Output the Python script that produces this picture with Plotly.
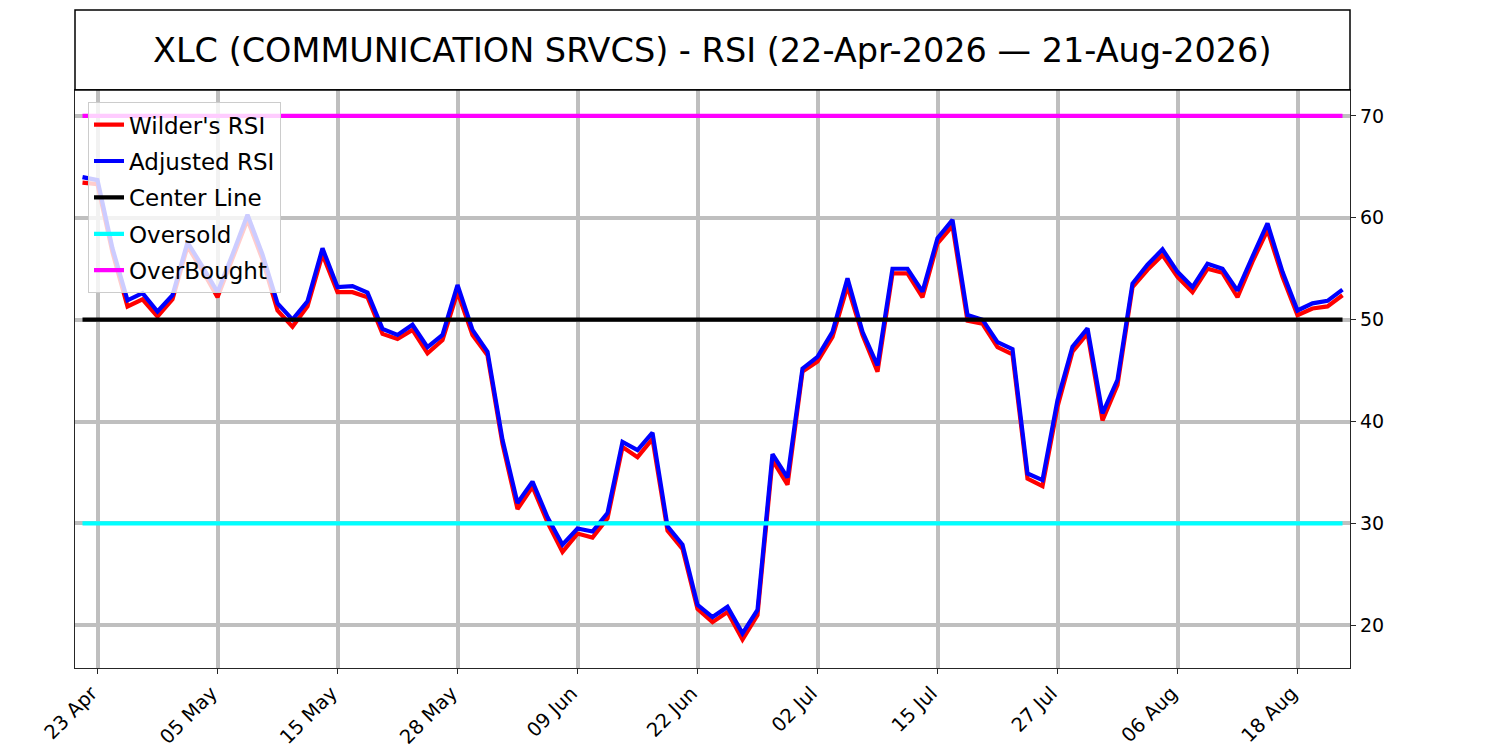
import plotly.graph_objects as go

# trading days shown on the chart (22-Apr-2026 .. 21-Aug-2026)
dates = [
    "2026-04-22", "2026-04-23", "2026-04-24", "2026-04-27", "2026-04-28", "2026-04-29", "2026-04-30",
    "2026-05-01", "2026-05-04", "2026-05-05", "2026-05-06", "2026-05-07", "2026-05-08", "2026-05-11",
    "2026-05-12", "2026-05-13", "2026-05-14", "2026-05-15", "2026-05-18", "2026-05-19", "2026-05-20",
    "2026-05-21", "2026-05-22", "2026-05-26", "2026-05-27", "2026-05-28", "2026-05-29", "2026-06-01",
    "2026-06-02", "2026-06-03", "2026-06-04", "2026-06-05", "2026-06-08", "2026-06-09", "2026-06-10",
    "2026-06-11", "2026-06-12", "2026-06-15", "2026-06-16", "2026-06-17", "2026-06-18", "2026-06-22",
    "2026-06-23", "2026-06-24", "2026-06-25", "2026-06-26", "2026-06-29", "2026-06-30", "2026-07-01",
    "2026-07-02", "2026-07-06", "2026-07-07", "2026-07-08", "2026-07-09", "2026-07-10", "2026-07-13",
    "2026-07-14", "2026-07-15", "2026-07-16", "2026-07-17", "2026-07-20", "2026-07-21", "2026-07-22",
    "2026-07-23", "2026-07-24", "2026-07-27", "2026-07-28", "2026-07-29", "2026-07-30", "2026-07-31",
    "2026-08-03", "2026-08-04", "2026-08-05", "2026-08-06", "2026-08-07", "2026-08-10", "2026-08-11",
    "2026-08-12", "2026-08-13", "2026-08-14", "2026-08-17", "2026-08-18", "2026-08-19", "2026-08-20",
    "2026-08-21",
]

wilders_rsi = [
    63.45, 63.3, 56.6, 51.3, 52.0, 50.3, 52.0, 57.2, 54.8, 52.2, 56.0, 59.8, 55.9, 50.9, 49.3,
    51.3, 56.4, 52.7, 52.7, 52.2, 48.6, 48.1, 49.0, 46.7, 48.0, 52.7, 48.5, 46.5, 37.8, 31.4,
    33.6, 30.1, 27.2, 29.0, 28.6, 30.5, 37.5, 36.5, 38.3, 29.3, 27.5, 21.6, 20.3, 21.3, 18.6,
    21.0, 36.2, 33.8, 44.9, 45.9, 48.3, 53.3, 48.5, 44.9, 54.55, 54.55, 52.2, 57.5, 59.2, 49.9,
    49.6, 47.3, 46.6, 34.4, 33.65, 41.45, 46.85, 48.65, 40.1, 43.6, 53.2, 54.9, 56.35, 54.2, 52.7,
    55.0, 54.6, 52.2, 55.7, 58.8, 54.2, 50.45, 51.1, 51.3, 52.4,
]

adjusted_rsi = [
    64.0, 63.7, 57.0, 51.9, 52.6, 50.8, 52.4, 57.6, 55.2, 52.7, 56.4, 60.3, 56.4, 51.6, 50.0,
    51.8, 57.0, 53.2, 53.3, 52.65, 49.1, 48.5, 49.5, 47.3, 48.5, 53.4, 49.0, 46.85, 38.2, 32.0,
    34.1, 30.6, 27.9, 29.5, 29.2, 31.0, 38.0, 37.2, 38.9, 29.7, 27.9, 22.0, 20.8, 21.8, 19.2,
    21.5, 36.8, 34.5, 45.2, 46.35, 48.8, 54.05, 48.8, 45.5, 55.0, 55.0, 52.75, 58.0, 59.8, 50.45,
    50.0, 47.8, 47.1, 34.9, 34.25, 42.1, 47.35, 49.15, 40.8, 44.1, 53.55, 55.4, 56.9, 54.7, 53.2,
    55.5, 55.0, 52.85, 56.2, 59.45, 54.7, 50.9, 51.6, 51.85, 52.95,
]

center_level = 50
oversold_level = 30
overbought_level = 70

tick_dates = ["2026-04-23", "2026-05-05", "2026-05-15", "2026-05-28", "2026-06-09", "2026-06-22",
              "2026-07-02", "2026-07-15", "2026-07-27", "2026-08-06", "2026-08-18"]
tick_labels = ["23 Apr", "05 May", "15 May", "28 May", "09 Jun", "22 Jun",
               "02 Jul", "15 Jul", "27 Jul", "06 Aug", "18 Aug"]
y_ticks = [20, 30, 40, 50, 60, 70]

title_text = "XLC (COMMUNICATION SRVCS) - RSI (22-Apr-2026 \u2014 21-Aug-2026)"

FONT = "DejaVu Sans"
LW = 4.2

fig = go.Figure()
fig.add_trace(go.Scatter(x=dates, y=wilders_rsi, mode="lines", name="Wilder's RSI",
                         line=dict(color="red", width=LW), legendgroup="a"))
fig.add_trace(go.Scatter(x=dates, y=adjusted_rsi, mode="lines", name="Adjusted RSI",
                         line=dict(color="blue", width=LW), legendgroup="b"))
ends = [dates[0], dates[-1]]
fig.add_trace(go.Scatter(x=ends, y=[center_level] * 2, mode="lines", name="Center Line",
                         line=dict(color="black", width=LW), legendgroup="c"))
fig.add_trace(go.Scatter(x=ends, y=[oversold_level] * 2, mode="lines", name="Oversold",
                         line=dict(color="cyan", width=LW), legendgroup="d"))
fig.add_trace(go.Scatter(x=ends, y=[overbought_level] * 2, mode="lines", name="OverBought",
                         line=dict(color="magenta", width=LW), legendgroup="e"))

# box around the title, sitting on top of the plot area
top = 1 + 80 / 578
fig.add_shape(type="rect", xref="paper", yref="paper", x0=0, x1=1, y0=1, y1=top,
              line=dict(color="black", width=1.5))
fig.add_annotation(text=title_text, xref="paper", yref="paper", x=0.5, y=(1 + top) / 2,
                   xanchor="center", yanchor="middle", showarrow=False,
                   font=dict(family=FONT, size=33.5, color="black"))

fig.update_xaxes(type="category", range=[-0.5, 84.5], tickvals=tick_dates, ticktext=tick_labels,
                 tickangle=-45, ticks="outside", ticklen=5, tickwidth=1.3, tickcolor="#262626",
                 ticklabelshift=-6,
                 showgrid=True, gridcolor="#bfbfbf", gridwidth=4, automargin=False,
                 showline=True, linecolor="#262626", linewidth=1.3, mirror=True,
                 tickfont=dict(family=FONT, size=19.5, color="black"))
fig.update_yaxes(side="right", range=[15.8, 72.55], tickvals=y_ticks, automargin=False,
                 ticks="outside", ticklen=5, tickwidth=1.3, tickcolor="#262626",
                 showgrid=True, gridcolor="#bfbfbf", gridwidth=4, zeroline=False,
                 showline=True, linecolor="#262626", linewidth=1.3, mirror=True,
                 tickfont=dict(family=FONT, size=19, color="black"))

# the page puts the figure 8px in from the top-left corner
fig.update_layout(
    width=1492, height=742,
    margin=dict(l=67, r=150, t=82, b=82, autoexpand=False),
    paper_bgcolor="white", plot_bgcolor="white",
    font=dict(family=FONT, color="black"),
    showlegend=True,
    legend=dict(x=0.0102, y=0.979, xanchor="left", yanchor="top",
                bgcolor="rgba(255,255,255,0.8)", bordercolor="#cccccc", borderwidth=1,
                font=dict(family=FONT, size=23, color="black"),
                tracegroupgap=3.5, itemwidth=30),
)

fig.write_html("out.html")
